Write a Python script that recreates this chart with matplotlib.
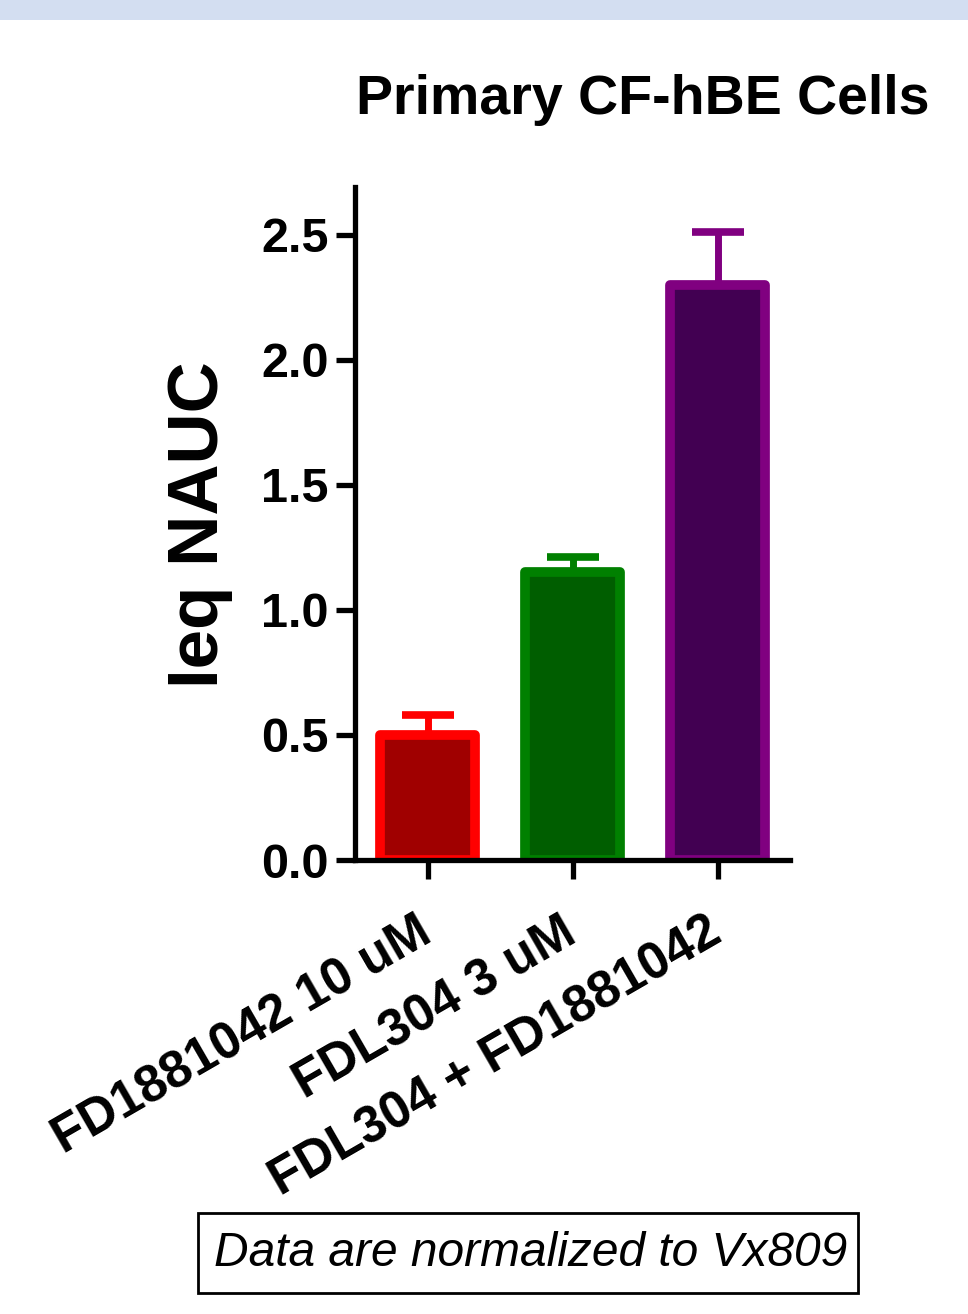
import matplotlib
matplotlib.use('Agg')
import matplotlib.pyplot as plt
import matplotlib.transforms as mtransforms
from matplotlib.patches import Rectangle

plt.rcParams['font.family'] = ['Liberation Sans', 'DejaVu Sans']

# data
groups = ['FD1881042 10 uM', 'FDL304 3 uM', 'FDL304 + FD1881042']
means = [0.50, 1.15, 2.30]
errs = [0.08, 0.06, 0.21]
edge_colors = ['#ff0000', '#008000', '#800080']
fill_colors = ['#a00000', '#005e00', '#420052']
yticks = [0.0, 0.5, 1.0, 1.5, 2.0, 2.5]

fig = plt.figure(figsize=(9.68, 13.14), dpi=100)

# light blue strip along the top
fig.patches.append(Rectangle((0, 1 - 20 / 1314), 1, 20 / 1314, transform=fig.transFigure,
                             facecolor='#d3def1', edgecolor='none'))

ax = fig.add_axes([355 / 968, 1 - 860 / 1314, (790 - 355) / 968, (860 - 187) / 1314])

x = list(range(len(groups)))
for i in x:
    ax.errorbar(i, means[i], yerr=[[0], [errs[i]]], fmt='none', ecolor=edge_colors[i],
                elinewidth=5, capsize=19, capthick=5.5, zorder=1)
ax.bar(x, means, width=0.65, color=fill_colors, edgecolor=edge_colors, linewidth=7,
       joinstyle='round', zorder=2)

ax.set_xlim(-0.5, 2.5)
ax.set_ylim(0, 2.69)
ax.set_yticks(yticks)
ax.set_yticklabels(['%.1f' % t for t in yticks], fontsize=35, fontweight='bold')
ax.set_xticks(x)
ax.set_xticklabels([])

# rotated category labels, placed by hand under each tick
offset = mtransforms.ScaledTranslation(-12 / 100, -48 / 100, fig.dpi_scale_trans)
for i, name in zip(x, groups):
    ax.text(i, 0, name, transform=ax.get_xaxis_transform() + offset, fontsize=37,
            fontweight='bold', rotation=30, ha='right', va='top', rotation_mode='anchor')

for side in ['top', 'right']:
    ax.spines[side].set_visible(False)
for side in ['left', 'bottom']:
    ax.spines[side].set_linewidth(3.8)
    ax.spines[side].set_zorder(3)
ax.tick_params(axis='both', direction='out', length=14, width=3.8, pad=5)

fig.text(643 / 968, 1 - 100 / 1314, 'Primary CF-hBE Cells', fontsize=40, fontweight='bold',
         ha='center', va='center')
fig.text(200 / 968, 1 - 525 / 1314, 'Ieq NAUC', fontsize=51, fontweight='bold',
         rotation=90, ha='center', va='center')

# note box
fig.patches.append(Rectangle((198 / 968, 1 - 1293 / 1314), 660 / 968, 80 / 1314,
                             transform=fig.transFigure, facecolor='white',
                             edgecolor='black', linewidth=2))
fig.text(531 / 968, 1 - 1253 / 1314, 'Data are normalized to Vx809', fontsize=34.5,
         style='italic', ha='center', va='center')

fig.savefig('out.png', dpi=100)
